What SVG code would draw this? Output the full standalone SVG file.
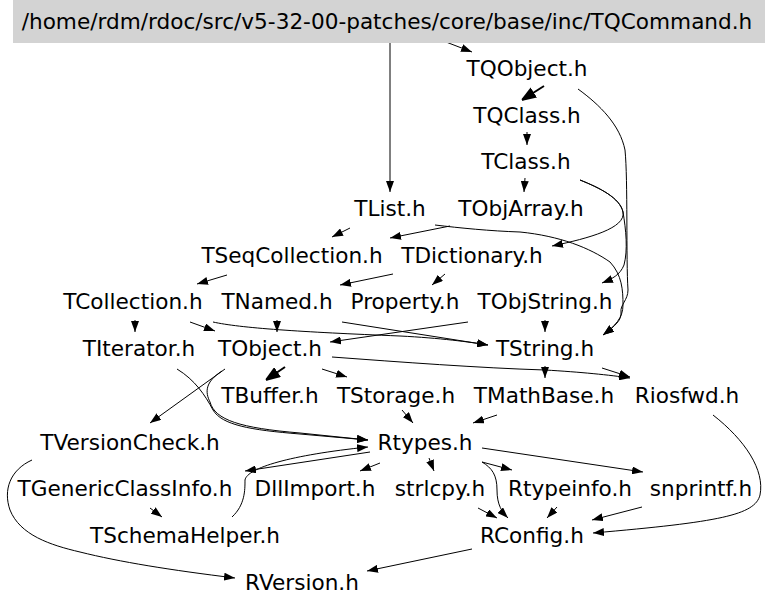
<svg xmlns="http://www.w3.org/2000/svg" width="768" height="607" viewBox="0 0 768 607">
<style>
text{font-family:"DejaVu Sans",sans-serif;font-size:21.6px;fill:#000;text-anchor:middle}
.e path{fill:none;stroke:#000;stroke-width:1;marker-end:url(#a)}
.e path.b{stroke-width:2;marker-end:url(#b)}
</style>
<defs>
<marker id="a" viewBox="0 0 11 8" refX="11" refY="4" markerWidth="11" markerHeight="8" markerUnits="userSpaceOnUse" orient="auto"><path d="M0,0 L11,4 L0,8 z" fill="#000"/></marker>
<marker id="b" viewBox="0 0 14 12" refX="14" refY="6" markerWidth="14" markerHeight="12" markerUnits="userSpaceOnUse" orient="auto"><path d="M0,0 L14,5 L14,7 L0,12 z" fill="#000"/></marker>
</defs>
<rect x="0" y="0" width="768" height="607" fill="#fff"/>
<g id="edges" class="e">
<path d="M446,42 L472,52"/>
<path d="M390,43 L390,192"/>
<path class="b" d="M544,86 L522,100"/>
<path d="M578,89 C600,105 620,125 625,150 C628,180 626,260 628,290 C628,300 620,305 621,312 C622,320 615,326 603,335"/>
<path d="M527,132 L527,145"/>
<path d="M525,178 L524,192"/>
<path d="M580,180 C600,188 620,198 623,212 C626,228 590,238 552,246"/>
<path d="M580,180 C600,188 620,198 623,212 C626,230 628,250 624,265 C620,275 612,279 602,283"/>
<path d="M435,225 C460,228 490,231 520,232 C560,236 590,248 610,262 C622,275 623,290 623,305 C623,318 615,326 603,335"/>
<path d="M350,228 L332,237"/>
<path d="M450,226 L390,238"/>
<path d="M227,275 L197,284"/>
<path d="M393,274 L340,285"/>
<path d="M445,274 L432,285"/>
<path d="M135,320 L135,332"/>
<path d="M190,322 L215,331"/>
<path d="M213,322 C240,328 300,332 400,336 C440,338 470,342 488,345"/>
<path d="M342,322 L488,345"/>
<path d="M277,320 L277,332"/>
<path d="M468,322 L330,342"/>
<path d="M545,320 L545,332"/>
<path class="b" d="M285,367 L266,380"/>
<path d="M322,369 L347,377"/>
<path d="M332,357 C400,362 480,368 545,370 C580,372 610,375 630,378"/>
<path d="M545,366 L545,378"/>
<path d="M602,368 L630,377"/>
<path d="M225,369 L150,423"/>
<path d="M222,371 C205,382 205,392 210,402 C215,420 240,428 300,433 L368,440"/>
<path d="M177,369 C195,380 205,395 213,410 C222,425 250,430 300,434 L368,440"/>
<path d="M402,410 L413,423"/>
<path d="M497,415 L473,423"/>
<path d="M713,415 C745,440 765,470 760,495 C755,515 720,522 593,533"/>
<path d="M370,452 L245,471"/>
<path d="M232,517 C245,505 245,490 245,480 C247,468 290,455 368,447"/>
<path d="M380,463 L360,471"/>
<path d="M429,458 L434,471"/>
<path d="M482,462 L512,470"/>
<path d="M482,448 L643,472"/>
<path d="M482,462 C492,468 497,475 497,490 C497,505 502,512 508,518"/>
<path d="M478,508 L497,518"/>
<path d="M557,507 L547,518"/>
<path d="M642,507 L592,520"/>
<path d="M472,549 L367,571"/>
<path d="M32,460 C10,470 3,490 10,510 C20,535 50,545 80,552 C120,562 170,570 235,578"/>
<path d="M150,508 L162,517"/>
</g>
<g id="n0"><rect x="13" y="0" width="752" height="43" fill="#d3d3d3"/><text x="387" y="29">/home/rdm/rdoc/src/v5-32-00-patches/core/base/inc/TQCommand.h</text></g>
<g id="n1"><text x="527" y="76">TQObject.h</text></g>
<g id="n2"><text x="527" y="123">TQClass.h</text></g>
<g id="n3"><text x="526" y="169">TClass.h</text></g>
<g id="n4"><text x="390" y="216">TList.h</text></g>
<g id="n5"><text x="521" y="216">TObjArray.h</text></g>
<g id="n6"><text x="292" y="263">TSeqCollection.h</text></g>
<g id="n7"><text x="472" y="263">TDictionary.h</text></g>
<g id="n8"><text x="133" y="309">TCollection.h</text></g>
<g id="n9"><text x="277" y="309">TNamed.h</text></g>
<g id="n10"><text x="405" y="309">Property.h</text></g>
<g id="n11"><text x="545" y="309">TObjString.h</text></g>
<g id="n12"><text x="139" y="356">TIterator.h</text></g>
<g id="n13"><text x="270" y="356">TObject.h</text></g>
<g id="n14"><text x="545" y="356">TString.h</text></g>
<g id="n15"><text x="270" y="403">TBuffer.h</text></g>
<g id="n16"><text x="396" y="403">TStorage.h</text></g>
<g id="n17"><text x="544" y="403">TMathBase.h</text></g>
<g id="n18"><text x="687" y="403">Riosfwd.h</text></g>
<g id="n19"><text x="130" y="450">TVersionCheck.h</text></g>
<g id="n20"><text x="425" y="450">Rtypes.h</text></g>
<g id="n21"><text x="125" y="496">TGenericClassInfo.h</text></g>
<g id="n22"><text x="315" y="496">DllImport.h</text></g>
<g id="n23"><text x="440" y="496">strlcpy.h</text></g>
<g id="n24"><text x="570" y="496">Rtypeinfo.h</text></g>
<g id="n25"><text x="701" y="496">snprintf.h</text></g>
<g id="n26"><text x="185" y="543">TSchemaHelper.h</text></g>
<g id="n27"><text x="532" y="543">RConfig.h</text></g>
<g id="n28"><text x="302" y="590">RVersion.h</text></g>
</svg>
